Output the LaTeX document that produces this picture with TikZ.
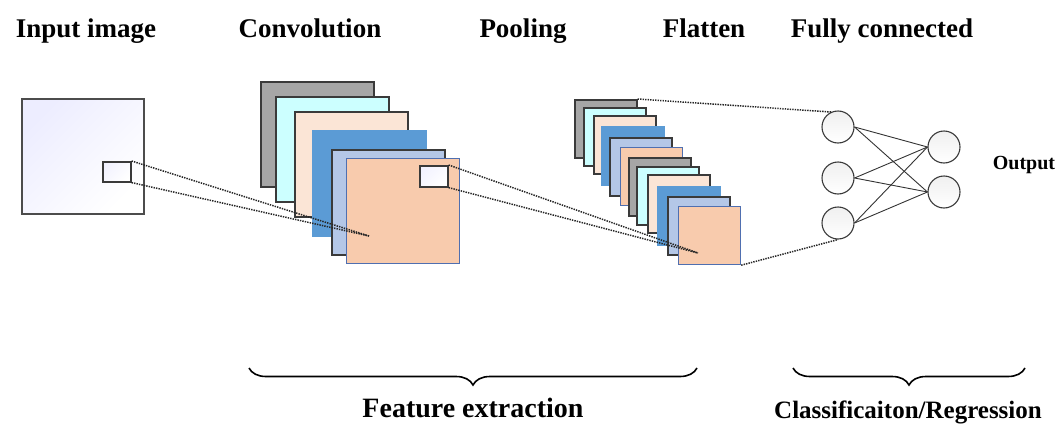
\documentclass[tikz,border=0pt]{standalone}
\usepackage{fontspec}
\setmainfont{Liberation Serif}
\usetikzlibrary{decorations.pathreplacing}
\definecolor{lgray}{HTML}{A6A6A6}
\definecolor{lcyan}{HTML}{CCFFFF}
\definecolor{lpeach}{HTML}{FBE5D6}
\definecolor{lblue}{HTML}{5B9BD5}
\definecolor{llav}{HTML}{B4C7E7}
\definecolor{lorange}{HTML}{F8CBAD}
\definecolor{edgeblue}{HTML}{4F6FB0}
\definecolor{darkedge}{HTML}{3A3A3A}
\tikzset{
  title/.style={font=\fontsize{27}{30}\selectfont\bfseries, anchor=base},
  layer/.style={draw=darkedge, line width=1.6pt, inner sep=0pt, anchor=north west},
  convlayer/.style={layer, minimum width=113pt, minimum height=105pt},
  poollayer/.style={layer, minimum width=62pt, minimum height=58pt},
  Lgray/.style={fill=lgray},
  Lcyan/.style={fill=lcyan},
  Lpeach/.style={fill=lpeach},
  Lblue/.style={fill=lblue, draw=lblue},
  Llav/.style={fill=llav},
  Lorange/.style={fill=lorange, draw=edgeblue, line width=1.2pt},
  window/.style={draw=darkedge, line width=1.6pt, inner sep=0pt, anchor=north west, left color=blue!5, right color=white, shading angle=45},
  dots/.style={dash pattern=on 1.4pt off 1.1pt, line width=1.5pt, black!85},
  neuron/.style={circle, draw=darkedge, line width=1.1pt, minimum size=32pt, inner sep=0pt, top color=gray!12, bottom color=white},
  link/.style={line width=0.9pt, black!80},
  bracestyle/.style={decorate, decoration={brace, amplitude=17pt}, line width=1.6pt},
}
\begin{document}
\begin{tikzpicture}[x=1pt, y=-1pt]
\useasboundingbox (0,0) rectangle (1060,423);
% titles
\node[title] (t1) at (86,37) {Input image};
\node[title] (t2) at (310,37) {Convolution};
\node[title] (t3) at (523,37) {Pooling};
\node[title] (t4) at (704,37) {Flatten};
\node[title] (t5) at (882,37) {Fully connected};
% input image
\node[layer, minimum width=122pt, minimum height=115pt, draw=black!70, left color=blue!7, right color=white, shading angle=45] (inp) at (21,98) {};
\node[window, minimum width=28pt, minimum height=20pt] (inwin) at (102,161) {};
% convolution layers
\node[convlayer, Lgray] (c1) at (260,81) {};
\node[convlayer, Lcyan] (c2) at (275,96) {};
\node[convlayer, Lpeach] (c3) at (294,111) {};
\node[convlayer, Lblue] (c4) at (312,130) {};
\node[convlayer, Llav] (c5) at (331,149) {};
\node[convlayer, Lorange] (c6) at (346,158) {};
\node[window, minimum width=28pt, minimum height=21pt] (cwin) at (419,165) {};
\coordinate (cfocus) at (369,236);
% pooling layers
\node[poollayer, Lgray] (p1) at (574,99) {};
\node[poollayer, Lcyan] (p2) at (583,107) {};
\node[poollayer, Lpeach] (p3) at (593,115) {};
\node[poollayer, Lblue] (p4) at (601,126) {};
\node[poollayer, Llav] (p5) at (609,137) {};
\node[poollayer, Lorange] (p6) at (620,147) {};
\node[poollayer, Lgray] (p7) at (628,157) {};
\node[poollayer, Lcyan] (p8) at (636,166) {};
\node[poollayer, Lpeach] (p9) at (647,174) {};
\node[poollayer, Lblue] (p10) at (657,186) {};
\node[poollayer, Llav] (p11) at (667,196) {};
\node[poollayer, Lorange] (p12) at (678,206) {};
\coordinate (pfocus) at (698,253);
% neurons
\node[neuron] (n1) at (838,127) {};
\node[neuron] (n2) at (838,178) {};
\node[neuron] (n3) at (838,223) {};
\node[neuron] (o1) at (944,147) {};
\node[neuron] (o2) at (944,192) {};
\node[font=\fontsize{20}{23}\selectfont\bfseries, anchor=base] (out) at (1024,169) {Output};
\foreach \a in {n1,n2,n3}{
  \foreach \b in {o1,o2}{
    \draw[link] (\a.east) -- (\b.west);
  }
}
% dotted connectors
\draw[dots] (inwin.north east) -- (cfocus);
\draw[dots] (inwin.south east) -- (cfocus);
\draw[dots] (cwin.north east) -- (pfocus);
\draw[dots] (cwin.south east) -- (pfocus);
\draw[dots] (p1.north east) -- (n1.115);
\draw[dots] (p12.south east) -- (n3.south);
% braces
\coordinate (fa) at (697,368);
\coordinate (fb) at (249,368);
\coordinate (ca) at (1025,368);
\coordinate (cb) at (793,368);
\draw[bracestyle] (fa) -- (fb);
\draw[bracestyle] (ca) -- (cb);
\node[font=\fontsize{28}{31}\selectfont\bfseries, anchor=base] (fe) at (473,417) {Feature extraction};
\node[font=\fontsize{25}{28}\selectfont\bfseries, anchor=base] (cr) at (908,418) {Classificaiton/Regression};
\end{tikzpicture}
\end{document}
